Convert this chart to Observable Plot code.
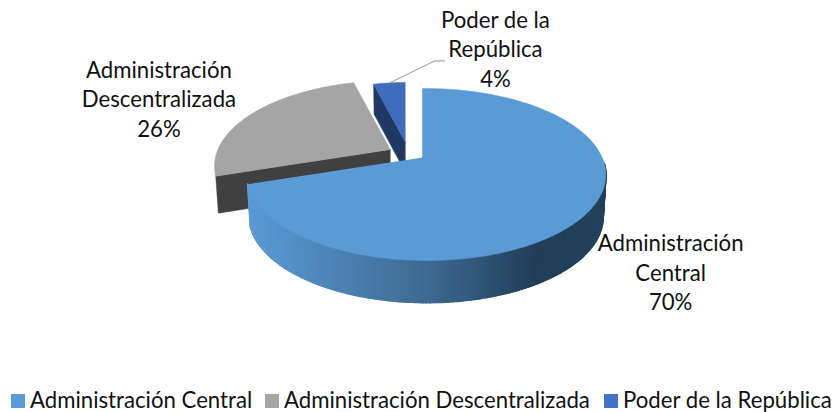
<!DOCTYPE html>
<html>
<head>
<meta charset="utf-8">
<script src="https://cdn.jsdelivr.net/npm/d3@7"></script>
<script src="https://cdn.jsdelivr.net/npm/@observablehq/plot@0.6"></script>
<style>
html,body{margin:0;padding:0;background:#fff;}
#chart svg{display:block;}
#legend{position:relative;height:27px;font:22.2px Lato,sans-serif;color:#111;white-space:nowrap;}
.item{position:absolute;top:1px;line-height:27px;}
.item i{position:absolute;left:-19px;top:8px;width:14px;height:14px;}
</style>
</head>
<body>
<div id="chart"></div>
<div id="legend"></div>
<script>
// Data
const categories = ["Administración Central", "Administración Descentralizada", "Poder de la República"];
const labelLines = ["Administración\nCentral", "Administración\nDescentralizada", "Poder de la\nRepública"];
const values = [70, 26, 4];

// Styling
const topColors = ["#5b9bd5", "#a5a5a5", "#3f6cbd"];
const wallColors = ["#2a4a68", "#404040", "#1f3864"];
const legendColors = ["#5b9bd5", "#a5a5a5", "#4472c4"];
const legendLeft = [30, 284, 623];

// Projection of the tilted, exploded disc
const W = 835, H = 385;
const apexX = [422, 390, 405], apexY = [157, 149, 142];
const radiusScale = [1, 1, 0.85];
const depth = [42, 37, 30];
const labelDX = [84, -93, 106], labelDY = [58, -16, -35];
const R = 176, K = 82.6, TILT = 0.198, SKEW = 0.02;

const arcs = d3.pie().sort(null).startAngle(0).endAngle(2 * Math.PI)(values);

function project(i, angle, r = 1, down = false) {
  const X = Math.sin(angle) * r * radiusScale[i], Y = Math.cos(angle) * r * radiusScale[i];
  const d = 1 + TILT * Y - SKEW * X;
  const x = X * R / d, y = -Y * K / d;
  return down
    ? {x: apexX[i] + x * 0.985, y: apexY[i] + y + depth[i]}
    : {x: apexX[i] + x, y: apexY[i] + y};
}
function arcPoints(i, a0, a1, down = false) {
  const n = Math.max(2, Math.ceil(Math.abs(a1 - a0) / (Math.PI / 180)));
  return d3.range(n + 1).map(k => project(i, a0 + (a1 - a0) * k / n, 1, down));
}
function topFace(i) {
  const a = arcs[i];
  return [{x: apexX[i], y: apexY[i]}, ...arcPoints(i, a.startAngle, a.endAngle)];
}
function cutFace(i, angle) {
  const e = project(i, angle), eb = project(i, angle, 1, true);
  return [{x: apexX[i], y: apexY[i]}, e, eb, {x: apexX[i], y: apexY[i] + depth[i]}];
}

// Curved wall of the main slice, as narrow strips shaded by horizontal position
const strips = [];
{
  const deg = Math.PI / 180;
  const start = 94 * deg, end = arcs[0].endAngle;
  const n = Math.round((end - start) / deg);
  for (let k = 0; k < n; k++) {
    const a0 = start + (end - start) * k / n, a1 = start + (end - start) * (k + 1) / n;
    const p = [project(0, a0), project(0, a1), project(0, a1, 1, true), project(0, a0, 1, true)];
    const t = (d3.mean(p, d => d.x) - 247) / (606 - 247);
    p.forEach(q => strips.push({...q, k, t}));
  }
}

// Labels and leader line
const labels = arcs.map((a, i) => {
  const p = project(i, (a.startAngle + a.endAngle) / 2);
  return {x: p.x + labelDX[i], y: p.y + labelDY[i], text: `${labelLines[i]}\n${values[i]}%`};
});
const navyMid = project(2, (arcs[2].startAngle + arcs[2].endAngle) / 2);
const leader = [
  {x: navyMid.x, y: navyMid.y},
  {x: navyMid.x + 45, y: navyMid.y - 22},
  {x: navyMid.x + 55, y: navyMid.y - 22}
];

const poly = (pts, fill) => Plot.line(pts, {x: "x", y: "y", fill, stroke: fill, strokeWidth: 0.5, curve: "linear"});

const chart = Plot.plot({
  width: W, height: H,
  margin: 0,
  x: {domain: [0, W], range: [0, W], axis: null},
  y: {domain: [0, H], range: [0, H], axis: null},
  color: {type: "linear", domain: [0, 0.5, 0.8, 1], range: ["#5b9bd5", "#3e6a92", "#223e57", "#23405a"], interpolate: "rgb"},
  style: {background: "#fff"},
  marks: [
    poly(cutFace(2, arcs[2].startAngle), wallColors[2]),
    poly(topFace(2), topColors[2]),
    poly(cutFace(1, arcs[1].startAngle), wallColors[1]),
    poly(topFace(1), topColors[1]),
    Plot.line(strips, {x: "x", y: "y", z: "k", fill: "t", stroke: "t", strokeWidth: 1.8, curve: "linear"}),
    poly(topFace(0), topColors[0]),
    Plot.line(leader, {x: "x", y: "y", stroke: "#a6a6a6", strokeWidth: 1.2}),
    Plot.text(labels, {x: "x", y: "y", text: "text", fontSize: 22.2, lineHeight: 1.33, fill: "#111", fontFamily: "Lato"})
  ]
});
document.getElementById("chart").append(chart);

const legend = document.getElementById("legend");
categories.forEach((c, i) => {
  const s = document.createElement("span");
  s.className = "item";
  s.style.left = legendLeft[i] + "px";
  const sw = document.createElement("i");
  sw.style.background = legendColors[i];
  s.append(sw, c);
  legend.append(s);
});
</script>
</body>
</html>
